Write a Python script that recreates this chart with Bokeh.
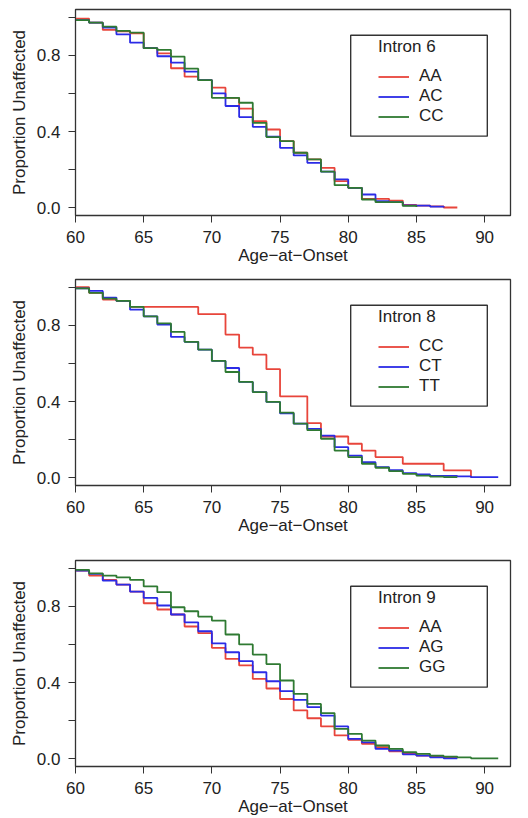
from bokeh.plotting import figure
from bokeh.layouts import column
from bokeh.models import Range1d, FixedTicker, Legend, LegendItem, BoxAnnotation
from bokeh.embed import file_html
from bokeh.resources import INLINE

# ages (years) at which the Kaplan-Meier steps start
ages = [60, 61, 62, 63, 64, 65, 66, 67, 68, 69, 70, 71, 72, 73, 74, 75,
        76, 77, 78, 79, 80, 81, 82, 83, 84, 85, 86, 87, 88, 89, 90, 91]

# Intron 6
i6_genotypes = ["AA", "AC", "CC"]
i6_aa = [0.992, 0.971, 0.933, 0.925, 0.915, 0.837, 0.81, 0.732, 0.688, 0.670,
         0.630, 0.577, 0.52, 0.455, 0.411, 0.35, 0.289, 0.254, 0.21, 0.14,
         0.105, 0.047, 0.047, 0.038, 0.015, 0.012, 0.008, 0.002, 0.002]
i6_ac = [0.984, 0.971, 0.945, 0.910, 0.866, 0.837, 0.795, 0.761, 0.714, 0.670,
         0.60, 0.534, 0.476, 0.425, 0.373, 0.315, 0.275, 0.236, 0.19, 0.149,
         0.105, 0.07, 0.035, 0.03, 0.013, 0.012, 0.007, 0.002]
i6_cc = [0.984, 0.971, 0.95, 0.928, 0.919, 0.837, 0.828, 0.793, 0.73, 0.670,
         0.577, 0.577, 0.551, 0.446, 0.371, 0.35, 0.289, 0.254, 0.19, 0.119,
         0.105, 0.044, 0.03, 0.03, 0.01, 0.005]

# Intron 8
i8_genotypes = ["CC", "CT", "TT"]
i8_cc = [1.0, 0.97, 0.935, 0.928, 0.896, 0.896, 0.896, 0.896, 0.896, 0.858,
         0.858, 0.751, 0.683, 0.646, 0.57, 0.427, 0.427, 0.287, 0.217, 0.217,
         0.179, 0.143, 0.109, 0.109, 0.074, 0.074, 0.074, 0.039, 0.039, 0.0]
i8_ct = [0.993, 0.98, 0.945, 0.928, 0.882, 0.847, 0.804, 0.739, 0.713, 0.672,
         0.613, 0.576, 0.503, 0.45, 0.398, 0.338, 0.284, 0.257, 0.222, 0.161,
         0.117, 0.082, 0.056, 0.04, 0.025, 0.018, 0.01, 0.01, 0.008, 0.004,
         0.004, 0.004]
i8_tt = [0.993, 0.97, 0.94, 0.928, 0.896, 0.847, 0.81, 0.765, 0.713, 0.672,
         0.613, 0.555, 0.503, 0.45, 0.398, 0.342, 0.284, 0.25, 0.205, 0.143,
         0.109, 0.074, 0.053, 0.035, 0.021, 0.012, 0.007, 0.004, 0.004]

# Intron 9
i9_genotypes = ["AA", "AG", "GG"]
i9_aa = [0.987, 0.961, 0.938, 0.914, 0.877, 0.816, 0.783, 0.757, 0.694, 0.659,
         0.582, 0.524, 0.49, 0.419, 0.369, 0.314, 0.254, 0.213, 0.17, 0.123,
         0.1, 0.079, 0.061, 0.04, 0.026, 0.017, 0.012, 0.005, 0.005]
i9_ag = [0.987, 0.97, 0.934, 0.914, 0.877, 0.844, 0.804, 0.757, 0.716, 0.669,
         0.606, 0.559, 0.512, 0.454, 0.407, 0.355, 0.309, 0.271, 0.227, 0.17,
         0.105, 0.087, 0.052, 0.044, 0.024, 0.017, 0.008, 0.003, 0.003]
i9_gg = [0.991, 0.973, 0.961, 0.952, 0.938, 0.904, 0.874, 0.795, 0.774, 0.746,
         0.725, 0.652, 0.6, 0.547, 0.497, 0.411, 0.341, 0.288, 0.24, 0.157,
         0.131, 0.096, 0.07, 0.052, 0.035, 0.026, 0.017, 0.012, 0.008, 0.003,
         0.003, 0.003]

x_ticks = [60, 65, 70, 75, 80, 85, 90]
y_ticks = [0, 0.2, 0.4, 0.6, 0.8, 1.0]
y_tick_labels = {0: "0.0", 0.2: "", 0.4: "0.4", 0.6: "", 0.8: "0.8", 1: ""}

colors = ["#e8453b", "#2b2be6", "#2f7a32"]
FONT = "Liberation Sans"
INK = "#333333"


def make_panel(title, genotypes, series, border_top, border_bottom):
    # the bokeh page has no body margin, so the 8px is built into the borders
    p = figure(frame_width=435, frame_height=206,
               x_range=Range1d(60, 91.9), y_range=Range1d(-0.04, 1.04),
               x_axis_label="Age\u2212at\u2212Onset",
               y_axis_label="Proportion Unaffected",
               output_backend="svg", toolbar_location=None,
               min_border_left=75, min_border_right=18,
               min_border_top=border_top, min_border_bottom=border_bottom)
    p.grid.visible = False
    p.outline_line_color = INK
    p.outline_line_width = 1.3
    p.background_fill_color = "white"

    for ax in (p.xaxis[0], p.yaxis[0]):
        ax.axis_line_color = INK
        ax.major_tick_line_color = INK
        ax.major_tick_in = 0
        ax.major_tick_out = 7
        ax.minor_tick_line_color = None
        ax.major_label_text_font = FONT
        ax.major_label_text_font_size = "17px"
        ax.major_label_text_color = "#222222"
        ax.axis_label_text_font = FONT
        ax.axis_label_text_font_size = "17px"
        ax.axis_label_text_font_style = "normal"
        ax.axis_label_text_color = "#222222"
    p.xaxis.ticker = FixedTicker(ticks=x_ticks)
    p.xaxis.major_label_standoff = 8
    p.xaxis.axis_label_standoff = 0
    p.yaxis.ticker = FixedTicker(ticks=y_ticks)
    p.yaxis.major_label_overrides = y_tick_labels
    p.yaxis.major_label_standoff = 8
    p.yaxis.axis_label_standoff = 5

    items = []
    for name, ys, col in zip(genotypes, series, colors):
        r = p.step(ages[:len(ys)], ys, mode="after", line_color=col, line_width=1.8)
        items.append(LegendItem(label=name, renderers=[r]))

    box = BoxAnnotation(left=80.18, right=90.2, top=0.905, bottom=0.376,
                        fill_color="white", fill_alpha=1.0,
                        line_color=INK, line_alpha=1.0, line_width=1.4)
    p.add_layout(box)

    leg = Legend(items=items, title=title, location=(303, 89),
                 border_line_alpha=0, background_fill_alpha=0,
                 padding=0, margin=0, spacing=0,
                 glyph_width=31, glyph_height=19, label_height=19,
                 label_standoff=10, title_standoff=9,
                 label_text_font=FONT, label_text_font_size="17px",
                 label_text_color="#222222",
                 title_text_font=FONT, title_text_font_size="17px",
                 title_text_font_style="normal", title_text_color="#222222")
    p.add_layout(leg)
    return p


p1 = make_panel("Intron 6", i6_genotypes, [i6_aa, i6_ac, i6_cc], 9, 50)
p2 = make_panel("Intron 8", i8_genotypes, [i8_cc, i8_ct, i8_tt], 12, 50)
p3 = make_panel("Intron 9", i9_genotypes, [i9_aa, i9_ag, i9_gg], 23, 50)

p = column(p1, p2, p3, spacing=0)
open("out.html", "w").write(file_html(p, INLINE))
